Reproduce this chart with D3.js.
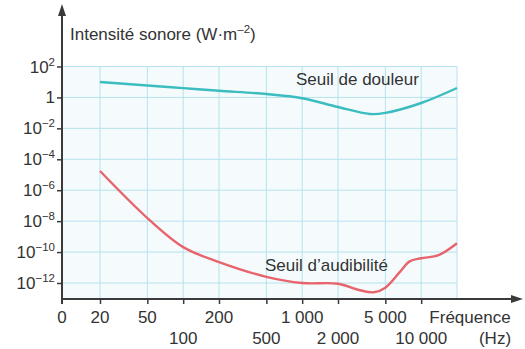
<!DOCTYPE html>
<html>
<head>
<meta charset="utf-8">
<script src="https://cdn.jsdelivr.net/npm/d3@7"></script>
<style>
  body { margin: 0; background: #fff; }
  svg text { font-family: "Liberation Sans", Arial, Helvetica, sans-serif; fill: #333; }
</style>
</head>
<body>
<svg width="525" height="349"></svg>
<script>
// frequencies (Hz) for ticks and grid
var freqTicks = [20, 50, 100, 200, 500, 1000, 2000, 5000, 10000];
var gridFreqs = [20, 50, 100, 200, 500, 1000, 2000, 5000, 10000, 20000];
var topRowFreqs = [20, 50, 200, 1000, 5000];
var topRowText = ['20', '50', '200', '1 000', '5 000'];
var bottomRowFreqs = [100, 500, 2000, 10000];
var bottomRowText = ['100', '500', '2 000', '10 000'];

// intensity ticks, as powers of ten
var yExponents = [2, 0, -2, -4, -6, -8, -10, -12];

// threshold of pain (log10 of W/m2)
var painFreq = [20, 50, 100, 200, 500, 1000, 2000, 3700, 5000, 10000, 20000];
var painLog = [1.0, 0.77, 0.6, 0.43, 0.22, -0.05, -0.62, -1.07, -1.0, -0.36, 0.61];

// threshold of hearing (log10 of W/m2)
var audFreq = [20, 50, 100, 200, 500, 1000, 2000, 3000, 4000, 5000, 6600, 8000, 10000, 14000, 20000];
var audLog = [-4.76, -7.8, -9.68, -10.65, -11.6, -12.0, -12.05, -12.45, -12.6, -12.3, -11.3, -10.6, -10.4, -10.2, -9.43];

var svg = d3.select('svg');

var x0 = 62, xAxisY = 299;
var x = d3.scaleLog().domain([20, 20000]).range([100, 457]);
var y = d3.scaleLog().domain([1e2, 1e-12]).range([66.5, 283]);

var gridColor = '#b5e2ec';
var axisColor = '#3a3a3a';

// light background of the grid
svg.append('rect')
    .attr('x', x0).attr('y', y(1e2))
    .attr('width', x(20000) - x0).attr('height', xAxisY - y(1e2))
    .attr('fill', '#f5fbfd');

// grid
svg.append('g').selectAll('line.h')
    .data(yExponents)
    .enter().append('line')
    .attr('x1', x0).attr('x2', x(20000))
    .attr('y1', d => y(Math.pow(10, d))).attr('y2', d => y(Math.pow(10, d)))
    .attr('stroke', gridColor).attr('stroke-width', 1);

svg.append('g').selectAll('line.v')
    .data(gridFreqs)
    .enter().append('line')
    .attr('x1', d => x(d)).attr('x2', d => x(d))
    .attr('y1', y(1e2)).attr('y2', xAxisY)
    .attr('stroke', gridColor).attr('stroke-width', 1);

// curves
var line = d3.line().curve(d3.curveCatmullRom.alpha(0.5));

svg.append('path')
    .attr('d', line(painFreq.map((f, i) => [x(f), y(Math.pow(10, painLog[i]))])))
    .attr('fill', 'none').attr('stroke', '#3bbdc0').attr('stroke-width', 2.4);

svg.append('path')
    .attr('d', line(audFreq.map((f, i) => [x(f), y(Math.pow(10, audLog[i]))])))
    .attr('fill', 'none').attr('stroke', '#e8646c').attr('stroke-width', 2.4);

// axes ticks
var xAxis = svg.append('g')
    .attr('transform', `translate(0, ${xAxisY})`)
    .call(d3.axisBottom(x).tickValues(freqTicks).tickSize(5).tickFormat(''));
xAxis.select('.domain').remove();
xAxis.selectAll('line').attr('stroke', axisColor).attr('stroke-width', 1.5);

var yAxis = svg.append('g')
    .attr('transform', `translate(${x0}, 0)`)
    .call(d3.axisLeft(y).tickValues(yExponents.map(e => Math.pow(10, e))).tickSize(5).tickFormat(''));
yAxis.select('.domain').remove();
yAxis.selectAll('line').attr('stroke', axisColor).attr('stroke-width', 1.5);

// axis lines with arrows
svg.append('line')
    .attr('x1', x0).attr('x2', 512)
    .attr('y1', xAxisY).attr('y2', xAxisY)
    .attr('stroke', axisColor).attr('stroke-width', 2);
svg.append('path')
    .attr('d', `M523,${xAxisY} L511,${xAxisY - 4} L511,${xAxisY + 4} Z`)
    .attr('fill', axisColor);

svg.append('line')
    .attr('x1', x0).attr('x2', x0)
    .attr('y1', 304).attr('y2', 14)
    .attr('stroke', axisColor).attr('stroke-width', 2);
svg.append('path')
    .attr('d', `M${x0},4 L${x0 - 4},16 L${x0 + 4},16 Z`)
    .attr('fill', axisColor);

// y tick labels
var yLabels = svg.append('g').selectAll('text')
    .data(yExponents)
    .enter().append('text')
    .attr('x', 55)
    .attr('y', d => y(Math.pow(10, d)) + 6)
    .attr('text-anchor', 'end')
    .style('font-size', '17px');

yLabels.each(function (d) {
    var t = d3.select(this);
    if (d === 0) {
        t.text('1');
        return;
    }
    t.append('tspan').text('10');
    t.append('tspan')
        .attr('dy', -7)
        .style('font-size', '11.5px')
        .text(d < 0 ? '\u2212' + Math.abs(d) : d);
});

// x tick labels, two rows
svg.append('text')
    .attr('x', x0).attr('y', 323)
    .attr('text-anchor', 'middle')
    .style('font-size', '17px')
    .text('0');

svg.append('g').selectAll('text')
    .data(topRowFreqs)
    .enter().append('text')
    .attr('x', d => x(d)).attr('y', 323)
    .attr('text-anchor', 'middle')
    .style('font-size', '17px')
    .text((d, i) => topRowText[i]);

svg.append('g').selectAll('text')
    .data(bottomRowFreqs)
    .enter().append('text')
    .attr('x', d => x(d)).attr('y', 344)
    .attr('text-anchor', 'middle')
    .style('font-size', '17px')
    .text((d, i) => bottomRowText[i]);

// axis titles
svg.append('text')
    .attr('x', 470).attr('y', 323)
    .attr('text-anchor', 'middle')
    .style('font-size', '17px')
    .text('Fréquence');
svg.append('text')
    .attr('x', 495).attr('y', 344)
    .attr('text-anchor', 'middle')
    .style('font-size', '17px')
    .text('(Hz)');

var title = svg.append('text')
    .attr('x', 70).attr('y', 40)
    .style('font-size', '17px');
title.append('tspan').text('Intensité sonore (W·m');
title.append('tspan').attr('dy', -7).style('font-size', '11.5px').text('\u20132');
title.append('tspan').attr('dy', 7).text(')');

// curve labels
svg.append('text')
    .attr('x', 296).attr('y', 85)
    .style('font-size', '17px')
    .text('Seuil de douleur');

svg.append('text')
    .attr('x', 265).attr('y', 271)
    .style('font-size', '17px')
    .text('Seuil d\u2019audibilité');
</script>
</body>
</html>
